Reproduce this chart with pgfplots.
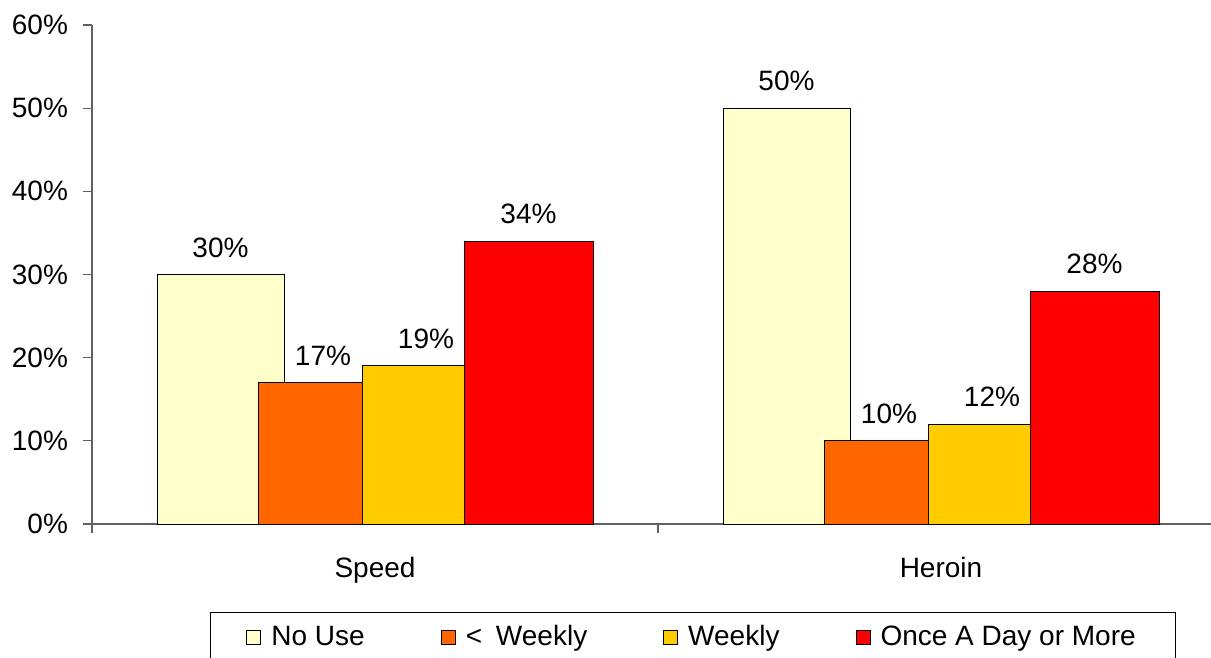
\documentclass[border=0pt]{standalone}
\usepackage{pgfplots}
\pgfplotsset{compat=1.18}
\usepackage{fontspec}
\setmainfont{Liberation Sans}
\definecolor{nouse}{HTML}{FFFFCC}
\definecolor{ltweekly}{HTML}{FF6600}
\definecolor{weekly}{HTML}{FFCC00}
\definecolor{daily}{HTML}{FF0000}
\definecolor{spine}{HTML}{606060}
\newcommand{\fs}{\fontsize{14}{16.8}\selectfont}
\begin{document}
\begin{tikzpicture}
\useasboundingbox (0,0) rectangle (605.5pt,-329pt);
\begin{axis}[
  at={(46pt,-262pt)}, anchor=south west,
  scale only axis, width=566pt, height=249.5pt,
  xmin=-0.5, xmax=1.5, ymin=0, ymax=60,
  ybar,
  axis x line*=bottom, axis y line*=left,
  axis line style={-, draw=spine, line width=0.6pt},
  tick style={draw=spine, line width=0.6pt},
  tick align=outside, major tick length=4.5pt,
  ytick={0,10,...,60},
  yticklabels={0\%,10\%,20\%,30\%,40\%,50\%,60\%},
  xtick={-0.5,0.5,1.5}, xticklabels={},
  extra x ticks={0,1}, extra x tick labels={Speed,Heroin},
  extra x tick style={major tick length=0pt, xticklabel style={yshift=-13pt}},
  tick label style={font=\fs},
  yticklabel style={xshift=-4pt},
  /pgf/number format/assume math mode=true,
  nodes near coords={\pgfmathprintnumber{\pgfplotspointmeta}\%},
  nodes near coords style={font=\fs, anchor=base, yshift=8.75pt, text=black},
  legend columns=4,
  legend style={at={(0.1042,-0.1764)}, anchor=north west, draw=black,
    line width=0.5pt, font=\fs, inner xsep=18pt, inner ysep=4.5pt,
    /tikz/every odd column/.append style={column sep=3pt},
    /tikz/every even column/.append style={column sep=36pt}},
  legend image code/.code={\draw[#1, line width=0.5pt] (0pt,-3.5pt) rectangle (7pt,3.5pt);},
]
\addplot[fill=nouse, draw=black, line width=0.5pt, bar width=63.5pt, bar shift=-77.25pt]
  coordinates {(0,30) (1,50)};
\addplot[fill=ltweekly, draw=black, line width=0.5pt, bar width=52pt, bar shift=-32.5pt,
  nodes near coords style={xshift=6.5pt}]
  coordinates {(0,17) (1,10)};
\addplot[fill=weekly, draw=black, line width=0.5pt, bar width=51pt, bar shift=19pt,
  nodes near coords style={xshift=6.5pt}]
  coordinates {(0,19) (1,12)};
\addplot[fill=daily, draw=black, line width=0.5pt, bar width=64.5pt, bar shift=76.75pt]
  coordinates {(0,34) (1,28)};
\legend{No Use, <\hspace{3pt} Weekly, Weekly, Once A Day or More}
\end{axis}
\end{tikzpicture}
\end{document}
